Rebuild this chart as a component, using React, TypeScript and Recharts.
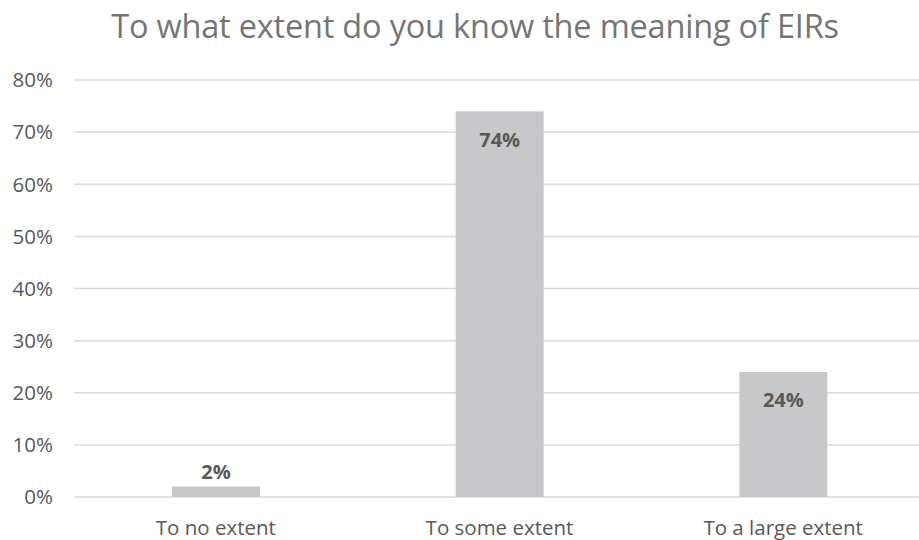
import React from "react";
import { BarChart, Bar, XAxis, YAxis, CartesianGrid, LabelList } from "recharts";

const categories = ["To no extent", "To some extent", "To a large extent"];
const shares = [2, 74, 24];
const yTicks = [0, 10, 20, 30, 40, 50, 60, 70, 80];

const data = categories.map((c, i) => ({ name: c, value: shares[i] }));

const FONT = "'Open Sans', sans-serif";

const renderLabel = (props: any) => {
  const { x, y, width, value } = props;
  const inside = value >= 10;
  const cy = inside ? y + 28 : y - 15;
  return (
    <text
      x={x + width / 2}
      y={cy}
      textAnchor="middle"
      dominantBaseline="central"
      fill="#595959"
      fontFamily={FONT}
      fontWeight={700}
      fontSize={20}
    >
      {`${value}%`}
    </text>
  );
};

export default function App() {
  return (
    <div style={{ position: "absolute", left: 0, top: 0, width: 919, height: 540, overflow: "hidden", background: "#fff" }}>
      <div
        style={{
          position: "absolute",
          top: 3,
          left: 0,
          width: 950,
          textAlign: "center",
          fontFamily: FONT,
          fontSize: 32.5,
          color: "#757575",
          lineHeight: "46px",
          letterSpacing: "-0.2px",
        }}
      >
        To what extent do you know the meaning of EIRs
      </div>
      <BarChart
        width={925}
        height={540}
        data={data}
        margin={{ top: 80, right: 0, left: 0, bottom: 0 }}
        barSize={88}
        style={{ position: "absolute", left: 0, top: 0 }}
      >
        <CartesianGrid vertical={false} stroke="#d9d9d9" strokeWidth={1.5} />
        <XAxis
          dataKey="name"
          height={43}
          axisLine={false}
          tickLine={false}
          tickSize={0}
          tickMargin={23}
          tick={{ fill: "#595959", fontSize: 20.5, fontFamily: FONT }}
        />
        <YAxis
          width={74}
          domain={[0, 80]}
          ticks={yTicks}
          axisLine={false}
          tickLine={false}
          tickSize={0}
          tickMargin={21}
          tickFormatter={(v: number) => `${v}%`}
          tick={{ fill: "#595959", fontSize: 20.5, fontFamily: FONT }}
        />
        <Bar dataKey="value" fill="#c8c8ca" isAnimationActive={false}>
          <LabelList dataKey="value" content={renderLabel} />
        </Bar>
      </BarChart>
    </div>
  );
}
